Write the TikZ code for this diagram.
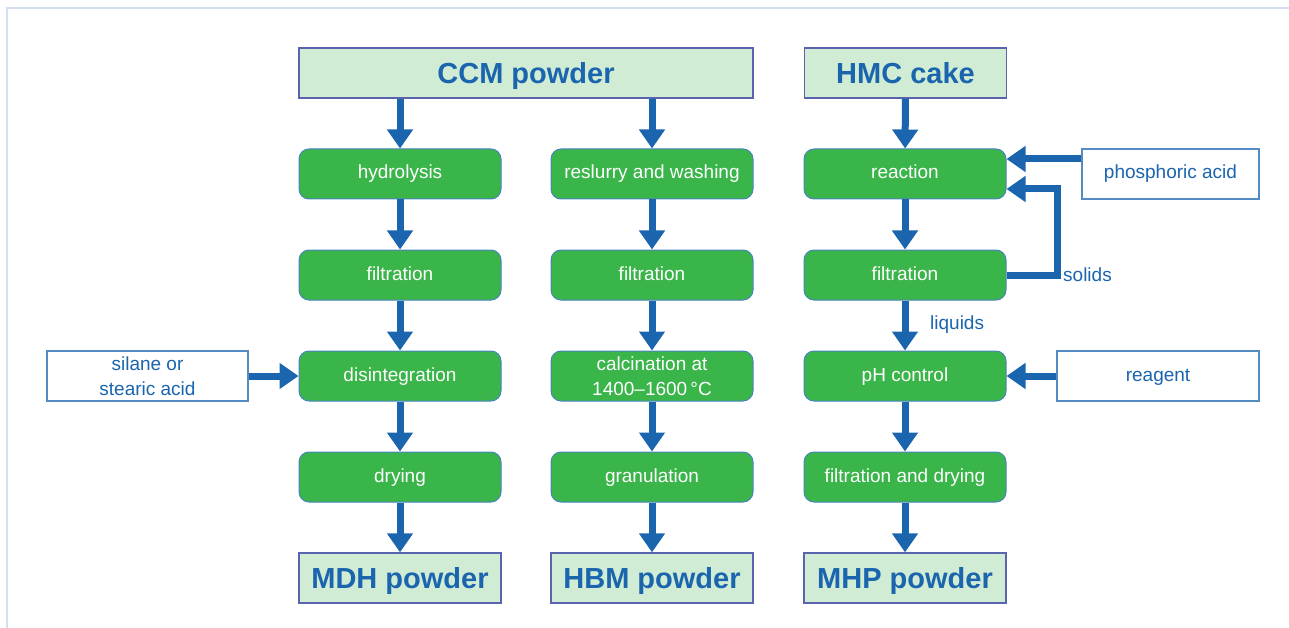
\documentclass[tikz,border=0pt]{standalone}
\usepackage{fontspec}
\setmainfont{Liberation Sans}
\usetikzlibrary{arrows.meta,positioning}
\definecolor{Flow_Blue}{HTML}{1A65AE}
\definecolor{Step_Green}{HTML}{3AB54A}
\definecolor{Pale_Green}{HTML}{D0ECD4}
\definecolor{Edge_Violet}{HTML}{5A63AE}
\definecolor{Frame_Blue}{HTML}{D3DFF0}
\newcommand{\labelfont}{\fontsize{19}{25}\selectfont}

\tikzset{
  product/.style={draw=Edge_Violet, line width=1.3pt, fill=Pale_Green, text=Flow_Blue,
    font=\fontsize{29}{33}\selectfont\bfseries, minimum width=202pt, minimum height=50pt, inner sep=0pt,
    text height=21pt, text depth=0pt},
  stepbase/.style={draw=Flow_Blue!80, line width=1pt, fill=Step_Green, rounded corners=10pt, text=white,
    font=\labelfont, minimum width=202pt, minimum height=50pt, inner sep=0pt, align=center},
  stepbox/.style={stepbase, text height=14pt, text depth=4pt},
  feedbase/.style={draw=Flow_Blue!75, line width=1.2pt, fill=white, text=Flow_Blue,
    font=\labelfont, minimum width=202pt, minimum height=50pt, inner sep=0pt, align=center},
  feed/.style={feedbase, text height=14pt, text depth=4pt},
  flow/.style={Flow_Blue, line width=7pt, -{Triangle[length=19pt,width=25pt]}},
  lbl/.style={text=Flow_Blue, font=\labelfont, inner sep=0pt, text height=14pt, text depth=4pt}
}

\begin{document}
\begin{tikzpicture}[x=1pt, y=-1pt]
    \useasboundingbox (0,0) rectangle (1289,628);

    % Frame
    \draw[Frame_Blue, line width=2pt] (7,628) -- (7,8) -- (1289,8);

    % Raw materials
    \node[product, minimum width=454pt] (ccm) at (526,73) {CCM powder};
    \node[product] (hmc) at (905.5,73) {HMC cake};

    % Left column - MDH route
    \node[stepbox] (hyd) at (400,174) {hydrolysis};
    \node[stepbox] (filtA) at (400,275) {filtration};
    \node[stepbox] (disint) at (400,376) {disintegration};
    \node[stepbox] (dry) at (400,477) {drying};
    \node[product] (mdh) at (400,578) {MDH powder};

    % Middle column - HBM route
    \node[stepbox] (resl) at (652,174) {reslurry and washing};
    \node[stepbox] (filtB) at (652,275) {filtration};
    \node[stepbase] (calc) at (652,376) {calcination at\\1400--1600\,°C};
    \node[stepbox] (gran) at (652,477) {granulation};
    \node[product] (hbm) at (652,578) {HBM powder};

    % Right column - MHP route
    \node[stepbox] (reac) at (905,174) {reaction};
    \node[stepbox] (filtC) at (905,275) {filtration};
    \node[stepbox] (phctl) at (905,376) {pH control};
    \node[stepbox] (fdry) at (905,477) {filtration and drying};
    \node[product] (mhp) at (905,578) {MHP powder};

    % Side feeds
    \node[feed, minimum width=177pt] (phos) at (1170.5,174) {phosphoric acid};
    \node[feedbase, minimum width=201pt] (silane) at (147.5,376) {silane or\\stearic acid};
    \node[feed] (reag) at (1158,376) {reagent};

    % Main flow arrows
    \draw[flow] (ccm.south -| hyd) -- (hyd);
    \draw[flow] (ccm.south -| resl) -- (resl);
    \draw[flow] (hmc) -- (reac);
    \foreach \a/\b in {hyd/filtA, filtA/disint, disint/dry, dry/mdh,
                       resl/filtB, filtB/calc, calc/gran, gran/hbm,
                       reac/filtC, filtC/phctl, phctl/fdry, fdry/mhp}
        \draw[flow] (\a) -- (\b);

    % Feed arrows
    \draw[flow] (phos.west |- 0,159) -- ([yshift=15pt]reac.east);
    \draw[flow] (silane) -- (disint);
    \draw[flow] (reag) -- (phctl);

    % Recycle of solids
    \draw[flow] (filtC.east) -- ++(51,0) |- ([yshift=-15pt]reac.east);
    \node[lbl, anchor=west] (solids) at (1063,276) {solids};
    \node[lbl, anchor=west] (liquids) at (930,324) {liquids};

\end{tikzpicture}
\end{document}
